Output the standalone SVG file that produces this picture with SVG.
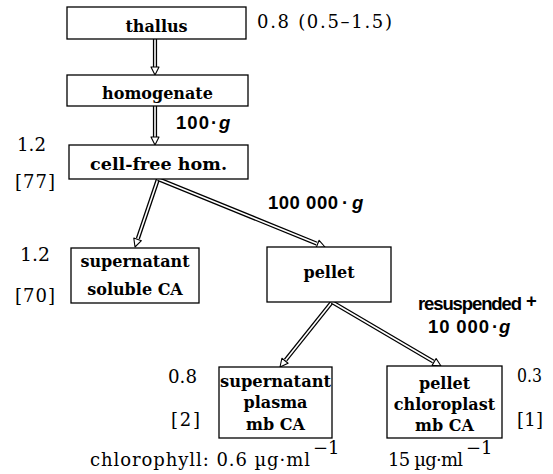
<svg xmlns="http://www.w3.org/2000/svg" width="553" height="474" viewBox="0 0 553 474">
<style>
.box{fill:#fff;stroke:#000;stroke-width:1.3}
.lbl{font-family:"DejaVu Serif",serif;font-weight:bold;font-size:16px;text-anchor:middle;fill:#000}
.num{font-family:"DejaVu Serif",serif;font-size:18px;fill:#000}
.g{font-family:"Liberation Sans",Arial,sans-serif;font-weight:bold;font-size:18.5px;fill:#000}
.gi{font-family:"Liberation Sans",Arial,sans-serif;font-weight:bold;font-style:italic;font-size:18.5px;fill:#000}
.sh1{fill:none;stroke:#000;stroke-width:4.2}
.sh2{fill:none;stroke:#fff;stroke-width:1.6}
.hd{fill:#fff;stroke:#000;stroke-width:1.1;stroke-linejoin:round}
</style>
<rect width="553" height="474" fill="#fff"/>
<g id="connectors">
  <path class="sh1" d="M155,39 L155,68"/><path class="sh2" d="M155,39 L155,68.5"/>
  <polygon class="hd" points="155,75 151,67 159,67"/>
  <path class="sh1" d="M155,106 L155,138"/><path class="sh2" d="M155,106 L155,138.5"/>
  <polygon class="hd" points="155,145 151,137 159,137"/>
  <path class="sh1" d="M158,179 L137.9,238.5"/><path class="sh2" d="M158,179 L137.7,239"/>
  <polygon class="hd" points="135,247 141.4,240.7 133.8,238.1"/>
  <path class="sh1" d="M158,179 L316.7,243.6"/><path class="sh2" d="M158,179 L317.2,243.8"/>
  <polygon class="hd" points="325,247 316.1,247.7 319.1,240.3"/>
  <path class="sh1" d="M332,302 L285.6,360"/><path class="sh2" d="M332,302 L285.3,360.4"/>
  <polygon class="hd" points="280,367 288.1,363.25 281.9,358.25"/>
  <path class="sh1" d="M332,302 L433.3,361.5"/><path class="sh2" d="M332,302 L433.7,361.7"/>
  <polygon class="hd" points="441,366 432.1,365.4 436.1,358.5"/>
</g>
<g id="thallus">
  <rect class="box" x="67" y="7" width="179" height="32"/>
  <text class="lbl" x="156.5" y="32">thallus</text>
</g>
<g id="homogenate">
  <rect class="box" x="67" y="75" width="181" height="31"/>
  <text class="lbl" x="157.5" y="99">homogenate</text>
</g>
<g id="cellfree">
  <rect class="box" x="69" y="145" width="179" height="34"/>
  <text class="lbl" x="158.5" y="170" textLength="137" lengthAdjust="spacingAndGlyphs">cell-free hom.</text>
</g>
<g id="supernatant-soluble">
  <rect class="box" x="71" y="248" width="128" height="55"/>
  <text class="lbl" x="135" y="267">supernatant</text>
  <text class="lbl" x="135" y="295">soluble CA</text>
</g>
<g id="pellet">
  <rect class="box" x="267" y="247" width="124" height="55"/>
  <text class="lbl" x="329" y="278">pellet</text>
</g>
<g id="supernatant-plasma">
  <rect class="box" x="219" y="367" width="113" height="71"/>
  <text class="lbl" x="275.5" y="387" textLength="111" lengthAdjust="spacingAndGlyphs">supernatant</text>
  <text class="lbl" x="275.5" y="408">plasma</text>
  <text class="lbl" x="275.5" y="430">mb CA</text>
</g>
<g id="pellet-chloroplast">
  <rect class="box" x="387" y="366" width="115" height="72"/>
  <text class="lbl" x="444.5" y="389">pellet</text>
  <text class="lbl" x="444.5" y="410">chloroplast</text>
  <text class="lbl" x="444.5" y="431">mb CA</text>
</g>
<g id="labels">
  <text class="num" x="257" y="28" textLength="135" lengthAdjust="spacing">0.8 (0.5–1.5)</text>
  <text class="num" x="17" y="151" textLength="29" lengthAdjust="spacingAndGlyphs">1.2</text>
  <text class="num" x="15" y="188" textLength="40" lengthAdjust="spacing">[77]</text>
  <text class="num" x="20" y="261" textLength="30" lengthAdjust="spacingAndGlyphs">1.2</text>
  <text class="num" x="15" y="302" textLength="40" lengthAdjust="spacing">[70]</text>
  <text class="num" x="168" y="383" textLength="29" lengthAdjust="spacingAndGlyphs">0.8</text>
  <text class="num" x="171" y="426" textLength="29" lengthAdjust="spacing">[2]</text>
  <text class="num" x="517" y="382" textLength="25" lengthAdjust="spacingAndGlyphs">0.3</text>
  <text class="num" x="517" y="426" textLength="26" lengthAdjust="spacing">[1]</text>
  <text class="num" x="90" y="466" font-size="17" textLength="220" lengthAdjust="spacing">chlorophyll: 0.6 µg·ml</text>
  <text class="num" x="313" y="454" font-size="11.5">−1</text>
  <text class="num" x="388" y="466" font-size="17" textLength="75" lengthAdjust="spacing">15 µg·ml</text>
  <text class="num" x="466" y="454" font-size="11.5">−1</text>
  <text class="g" x="176" y="129" textLength="33" lengthAdjust="spacing">100</text>
  <text class="g" x="211" y="129">·</text>
  <text class="gi" x="219" y="129">g</text>
  <text class="g" x="268" y="209" textLength="70" lengthAdjust="spacing">100 000</text>
  <text class="g" x="342" y="209">·</text>
  <text class="gi" x="352" y="209">g</text>
  <text class="g" x="418" y="310" font-size="13.5" textLength="104" lengthAdjust="spacing">resuspended</text>
  <text class="g" x="526" y="307" font-size="11">+</text>
  <text class="g" x="428" y="333" textLength="61" lengthAdjust="spacing">10 000</text>
  <text class="g" x="492" y="333">·</text>
  <text class="gi" x="499" y="333">g</text>
</g>
</svg>
